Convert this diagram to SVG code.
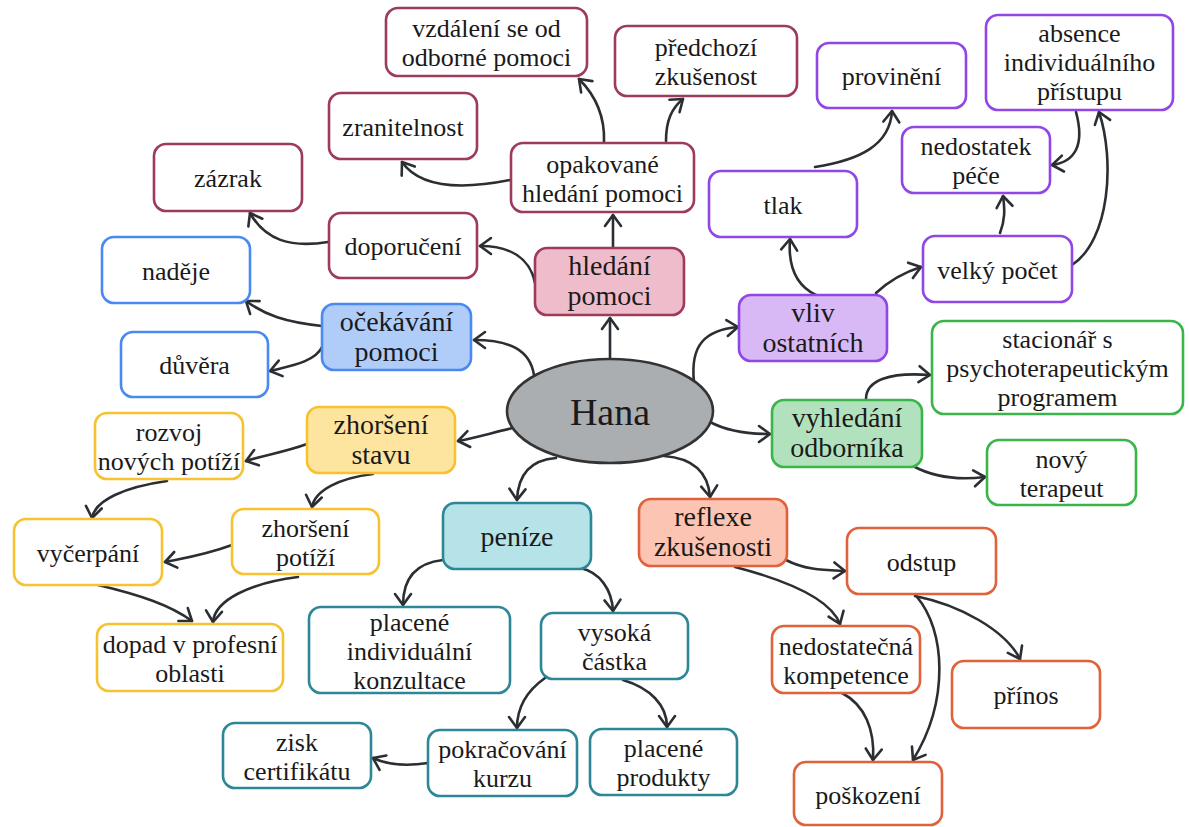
<svg xmlns="http://www.w3.org/2000/svg" width="1189" height="827" viewBox="0 0 1189 827">
<style>
text{font-family:"Liberation Serif","Times New Roman",serif;fill:#1a1a1a;text-anchor:middle}
.t{font-size:26px}
.m{font-size:28px}
rect{stroke-width:2.6}
.r{stroke:#9c3b5a;fill:#fff}.rm{stroke:#9c3b5a;fill:#efbccb}
.p{stroke:#9146e6;fill:#fff}.pm{stroke:#9146e6;fill:#d9b8f6}
.b{stroke:#4a8af0;fill:#fff}.bm{stroke:#4a8af0;fill:#b0cdfa}
.y{stroke:#f7c232;fill:#fff}.ym{stroke:#f7c232;fill:#fde59f}
.c{stroke:#2d8796;fill:#fff}.cm{stroke:#2d8796;fill:#b5e3e8}
.g{stroke:#3ab54a;fill:#fff}.gm{stroke:#3ab54a;fill:#b2e2bd}
.o{stroke:#e0623a;fill:#fff}.om{stroke:#e0623a;fill:#fcc5b3}
#edges path{fill:none;stroke:#2b2f33;stroke-width:2.6;stroke-linecap:round;marker-end:url(#ah)}
</style>
<defs>
<marker id="ah" viewBox="-14 -10 16 20" refX="0" refY="0" markerWidth="16" markerHeight="20" markerUnits="userSpaceOnUse" orient="auto">
<path d="M-11,-8 L0,0 L-11,8" fill="none" stroke="#2b2f33" stroke-width="2.6" stroke-linecap="round" stroke-linejoin="round"/>
</marker>
</defs>
<rect width="1189" height="827" fill="#fff" stroke="none"/>
<g id="edges">
<path d="M610,358 L610,318"/>
<path d="M534,375 C530,350 510,340 474,340"/>
<path d="M694,382 C690,345 705,330 738,327"/>
<path d="M513,428 C495,432 475,438 458,441"/>
<path d="M710,422 C725,430 745,434 770,434"/>
<path d="M556,458 C530,460 518,475 517,500"/>
<path d="M664,456 C690,458 708,470 710,497"/>
<path d="M613,248 L613,215"/>
<path d="M535,283 C530,258 510,246 480,246"/>
<path d="M604,142 C605,115 595,95 579,79"/>
<path d="M666,141 C666,120 672,108 683,99"/>
<path d="M510,180 C460,190 420,188 402,162"/>
<path d="M328,242 C290,248 265,240 250,213"/>
<path d="M322,326 C285,322 265,315 246,301"/>
<path d="M322,347 C315,362 290,366 270,371"/>
<path d="M307,444 C285,452 265,455 246,461"/>
<path d="M373,474 C340,478 315,490 312,507"/>
<path d="M167,481 C125,487 95,500 92,518"/>
<path d="M232,545 C205,555 185,558 165,562"/>
<path d="M298,577 C250,583 215,600 213,622"/>
<path d="M98,585 C140,595 170,605 192,621"/>
<path d="M443,560 C415,563 403,580 403,605"/>
<path d="M580,568 C600,572 612,590 613,611"/>
<path d="M545,678 C528,690 517,705 517,728"/>
<path d="M623,680 C650,688 667,705 667,727"/>
<path d="M428,763 C408,766 390,766 373,758"/>
<path d="M816,295 C795,285 788,265 790,239"/>
<path d="M876,293 C890,280 905,272 921,267"/>
<path d="M815,167 C860,160 890,145 892,111"/>
<path d="M1000,233 C1005,220 1005,210 1003,196"/>
<path d="M1072,265 C1110,240 1115,160 1099,112"/>
<path d="M1076,112 C1085,145 1075,162 1052,165"/>
<path d="M866,399 C866,380 890,372 930,375"/>
<path d="M913,466 C935,478 960,480 985,477"/>
<path d="M786,560 C805,570 825,570 845,571"/>
<path d="M735,567 C785,580 830,598 840,624"/>
<path d="M915,596 C960,605 1005,630 1020,659"/>
<path d="M917,597 C945,630 950,700 913,760"/>
<path d="M842,693 C865,705 875,730 873,760"/>
</g>
<g id="hana"><ellipse cx="610" cy="411" rx="103" ry="52" fill="#abaeb1" stroke="#333" stroke-width="2.6"/><text x="610" y="425" style="font-size:38px">Hana</text></g>
<g id="hledani"><rect class="rm" x="535" y="248" width="149" height="67" rx="12"/><text class="m" x="609.5" y="275">hledání<tspan x="609.5" dy="30">pomoci</tspan></text></g>
<g id="vzdaleni"><rect class="r" x="386" y="8" width="201" height="68" rx="12"/><text class="t" x="486.5" y="37">vzdálení se od<tspan x="486.5" dy="29">odborné pomoci</tspan></text></g>
<g id="predchozi"><rect class="r" x="615" y="26" width="182" height="70" rx="12"/><text class="t" x="706" y="56">předchozí<tspan x="706" dy="29">zkušenost</tspan></text></g>
<g id="zranitelnost"><rect class="r" x="329" y="93" width="148" height="66" rx="12"/><text class="t" x="403" y="135.5">zranitelnost</text></g>
<g id="opakovane"><rect class="r" x="511" y="143" width="183" height="69" rx="12"/><text class="t" x="602.5" y="172.5">opakované<tspan x="602.5" dy="29">hledání pomoci</tspan></text></g>
<g id="zazrak"><rect class="r" x="154" y="144" width="148" height="67" rx="12"/><text class="t" x="228" y="187">zázrak</text></g>
<g id="doporuceni"><rect class="r" x="329" y="213" width="148" height="65" rx="12"/><text class="t" x="403" y="255">doporučení</text></g>
<g id="vliv"><rect class="pm" x="739" y="295" width="148" height="66" rx="12"/><text class="m" x="813" y="321.5">vliv<tspan x="813" dy="30">ostatních</tspan></text></g>
<g id="provineni"><rect class="p" x="817" y="43" width="149" height="65" rx="12"/><text class="t" x="891.5" y="85">provinění</text></g>
<g id="absence"><rect class="p" x="986" y="15" width="187" height="95" rx="12"/><text class="t" x="1079.5" y="42">absence<tspan x="1079.5" dy="29">individuálního</tspan><tspan x="1079.5" dy="29">přístupu</tspan></text></g>
<g id="nedostatek"><rect class="p" x="902" y="127" width="148" height="66" rx="12"/><text class="t" x="976" y="155">nedostatek<tspan x="976" dy="29">péče</tspan></text></g>
<g id="tlak"><rect class="p" x="709" y="171" width="148" height="66" rx="12"/><text class="t" x="783" y="213.5">tlak</text></g>
<g id="velky"><rect class="p" x="923" y="236" width="149" height="66" rx="12"/><text class="t" x="997.5" y="278.5">velký počet</text></g>
<g id="ocekavani"><rect class="bm" x="322" y="304" width="149" height="66" rx="12"/><text class="m" x="396.5" y="330.5">očekávání<tspan x="396.5" dy="30">pomoci</tspan></text></g>
<g id="nadeje"><rect class="b" x="102" y="237" width="148" height="66" rx="12"/><text class="t" x="176" y="279.5">naděje</text></g>
<g id="duvera"><rect class="b" x="121" y="332" width="147" height="65" rx="12"/><text class="t" x="194.5" y="374">důvěra</text></g>
<g id="zhorseni-stavu"><rect class="ym" x="307" y="407" width="148" height="66" rx="12"/><text class="m" x="381" y="433.5">zhoršení<tspan x="381" dy="30">stavu</tspan></text></g>
<g id="rozvoj"><rect class="y" x="95" y="413" width="148" height="66" rx="12"/><text class="t" x="169" y="441">rozvoj<tspan x="169" dy="29">nových potíží</tspan></text></g>
<g id="vycerpani"><rect class="y" x="14" y="519" width="148" height="66" rx="12"/><text class="t" x="88" y="561.5">vyčerpání</text></g>
<g id="zhorseni-potizi"><rect class="y" x="232" y="509" width="147" height="65" rx="12"/><text class="t" x="305.5" y="536.5">zhoršení<tspan x="305.5" dy="29">potíží</tspan></text></g>
<g id="dopad"><rect class="y" x="97" y="624" width="186" height="67" rx="12"/><text class="t" x="190" y="652.5">dopad v profesní<tspan x="190" dy="29">oblasti</tspan></text></g>
<g id="penize"><rect class="cm" x="443" y="503" width="148" height="66" rx="12"/><text class="m" x="517" y="546">peníze</text></g>
<g id="placene-konz"><rect class="c" x="309" y="607" width="201" height="86" rx="12"/><text class="t" x="409.5" y="630.5">placené<tspan x="409.5" dy="29">individuální</tspan><tspan x="409.5" dy="29">konzultace</tspan></text></g>
<g id="vysoka"><rect class="c" x="541" y="613" width="147" height="66" rx="12"/><text class="t" x="614.5" y="641">vysoká<tspan x="614.5" dy="29">částka</tspan></text></g>
<g id="pokracovani"><rect class="c" x="428" y="730" width="149" height="66" rx="12"/><text class="t" x="502.5" y="758">pokračování<tspan x="502.5" dy="29">kurzu</tspan></text></g>
<g id="placene-prod"><rect class="c" x="590" y="729" width="147" height="66" rx="12"/><text class="t" x="663.5" y="757">placené<tspan x="663.5" dy="29">produkty</tspan></text></g>
<g id="zisk"><rect class="c" x="223" y="723" width="148" height="65" rx="12"/><text class="t" x="297" y="750.5">zisk<tspan x="297" dy="29">certifikátu</tspan></text></g>
<g id="vyhledani"><rect class="gm" x="772" y="400" width="150" height="67" rx="12"/><text class="m" x="847" y="427">vyhledání<tspan x="847" dy="30">odborníka</tspan></text></g>
<g id="stacionar"><rect class="g" x="932" y="321" width="251" height="93" rx="12"/><text class="t" x="1057.5" y="348">stacionář s<tspan x="1057.5" dy="29">psychoterapeutickým</tspan><tspan x="1057.5" dy="29">programem</tspan></text></g>
<g id="novy"><rect class="g" x="987" y="440" width="149" height="65" rx="12"/><text class="t" x="1061.5" y="467.5">nový<tspan x="1061.5" dy="29">terapeut</tspan></text></g>
<g id="reflexe"><rect class="om" x="639" y="499" width="148" height="67" rx="12"/><text class="m" x="713" y="526">reflexe<tspan x="713" dy="30">zkušenosti</tspan></text></g>
<g id="odstup"><rect class="o" x="847" y="528" width="149" height="66" rx="12"/><text class="t" x="921.5" y="570.5">odstup</text></g>
<g id="nedostatecna"><rect class="o" x="772" y="626" width="148" height="67" rx="12"/><text class="t" x="846" y="654.5">nedostatečná<tspan x="846" dy="29">kompetence</tspan></text></g>
<g id="prinos"><rect class="o" x="952" y="661" width="148" height="67" rx="12"/><text class="t" x="1026" y="704">přínos</text></g>
<g id="poskozeni"><rect class="o" x="794" y="762" width="148" height="63" rx="12"/><text class="t" x="868" y="803.5">poškození</text></g>
</svg>
